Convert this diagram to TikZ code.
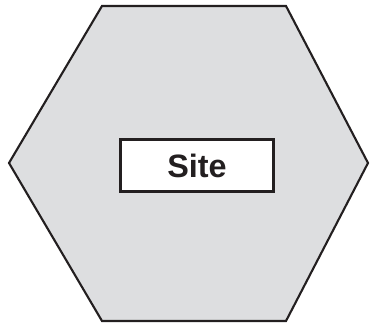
\documentclass[tikz,border=0pt]{standalone}
\usepackage{fontspec}
\setmainfont{Liberation Sans}
\definecolor{sitegray}{RGB}{221,222,224}
\definecolor{siteline}{RGB}{35,31,32}

\begin{document}
\begin{tikzpicture}[x=0.01cm,y=-0.01cm]
  \tikzstyle{hexside}=[draw=siteline,line width=0.6pt,fill=sitegray,line join=miter]
  \tikzstyle{label}=[draw=siteline,line width=0.85pt,fill=white,inner sep=0pt,
    minimum width=1.52cm,minimum height=0.51cm,font=\fontsize{9.2}{11}\selectfont\bfseries,text=siteline]
  \useasboundingbox (0,0) rectangle (370,325);
  % Corners of the hexagon
  \coordinate (west) at (9,163);
  \coordinate (nw) at (102,6);
  \coordinate (ne) at (286,6);
  \coordinate (east) at (368,163);
  \coordinate (se) at (286,321);
  \coordinate (sw) at (102,321);
  \draw[hexside] (west) -- (nw) -- (ne) -- (east) -- (se) -- (sw) -- cycle;
  % Label box in the middle
  \node[label] (site) at (197,165.5) {Site};
\end{tikzpicture}
\end{document}
